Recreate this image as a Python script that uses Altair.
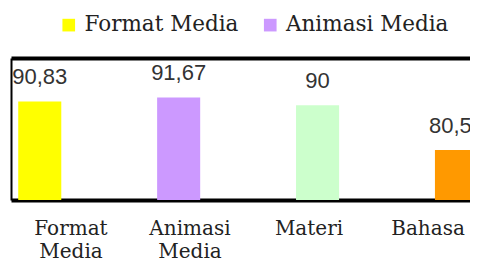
import altair as alt
import pandas as pd

categories = ["Format Media", "Animasi Media", "Materi", "Bahasa"]
values = [90.83, 91.67, 90, 80.56]
colors = ["#FFFF00", "#CC99FF", "#CCFFCC", "#FF9900"]
legend_items = ["Format Media", "Animasi Media"]
y_min, y_max = 70, 100

df = pd.DataFrame({"cat": categories, "value": values})

bar_scale = alt.Scale(type="band", range=[0, 467], paddingInner=0.69, paddingOuter=0.026, align=1)
label_scale = alt.Scale(type="band", range=[0, 467], paddingInner=0.16, paddingOuter=0.042, align=1)
y_scale = alt.Scale(domain=[y_min, y_max], zero=False, nice=False)
y_axis = alt.Axis(values=[y_min, y_max], grid=True, gridColor="black", gridWidth=4,
                  labels=False, ticks=False, domain=True, domainColor="black",
                  domainWidth=2, title=None, minExtent=0)

bars = alt.Chart(df).mark_bar().encode(
    x=alt.X("cat:N", sort=categories, scale=bar_scale, axis=None),
    y=alt.Y("value:Q", scale=y_scale, axis=y_axis),
    y2=alt.datum(y_min),
    color=alt.Color("cat:N", sort=categories,
                    scale=alt.Scale(domain=categories, range=colors),
                    legend=alt.Legend(values=legend_items, orient="none", direction="horizontal",
                                      legendX=47, legendY=-44, title=None, padding=0,
                                      symbolType="square", symbolSize=160, symbolStrokeWidth=0,
                                      symbolOpacity=1, labelFont="DejaVu Serif", labelFontSize=21.5,
                                      labelColor="#222", labelOffset=5, columnPadding=20.5,
                                      labelLimit=0)),
)

text = alt.Chart(df).transform_calculate(
    label="replace(toString(datum.value), '.', ',')"
).mark_text(dy=-17, baseline="alphabetic", font="Liberation Sans", fontSize=22, color="#333").encode(
    x=alt.X("cat:N", sort=categories, scale=bar_scale, axis=None),
    y=alt.Y("value:Q", scale=y_scale, axis=y_axis),
    text="label:N",
)

labels = alt.Chart(df).mark_tick(opacity=0).encode(
    x=alt.X("cat:N", sort=categories, scale=label_scale,
            axis=alt.Axis(orient="bottom", title=None, domain=False, ticks=False, tickSize=0,
                          labelExpr="split(datum.label, ' ')", labelFont="DejaVu Serif",
                          labelFontSize=20, labelColor="#222", labelBaseline="alphabetic",
                          labelPadding=34, labelLineHeight=23, labelAngle=0, labelLimit=0)),
)

chart = alt.layer(bars, text, labels).resolve_scale(x="independent").properties(
    width=459, height=142,
    autosize=alt.AutoSizeParams(type="none"),
    padding={"left": 3, "top": 50, "right": 0, "bottom": 62},
).configure_view(stroke=None)

chart.save("out.html", embed_options={"renderer": "svg", "actions": False})
